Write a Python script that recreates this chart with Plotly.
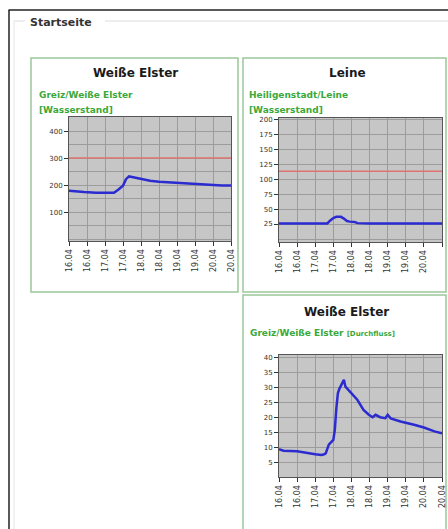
import plotly.graph_objects as go

W, H = 448, 529

# ---------------- data ----------------
TICKS = ["2010-04-16 00:00", "2010-04-16 12:00", "2010-04-17 00:00", "2010-04-17 12:00",
         "2010-04-18 00:00", "2010-04-18 12:00", "2010-04-19 00:00", "2010-04-19 12:00",
         "2010-04-20 00:00", "2010-04-20 12:00"]
TICK_LABELS = ["16.04", "16.04", "17.04", "17.04", "18.04", "18.04", "19.04", "19.04", "20.04", "20.04"]
TICK_LABELS_LEINE = ["16.04", "16.04", "17.04", "17.04", "18.04", "18.04", "19.04", "19.04", "20.04", ""]

elster_w_time = ["2010-04-16 00:00", "2010-04-16 04:00", "2010-04-16 10:00", "2010-04-16 18:00",
                 "2010-04-17 00:00", "2010-04-17 04:00", "2010-04-17 06:00", "2010-04-17 09:00",
                 "2010-04-17 12:00", "2010-04-17 14:00", "2010-04-17 16:00", "2010-04-17 18:00",
                 "2010-04-17 21:00", "2010-04-18 00:00", "2010-04-18 06:00", "2010-04-18 12:00",
                 "2010-04-18 18:00", "2010-04-19 00:00", "2010-04-19 06:00", "2010-04-19 12:00",
                 "2010-04-19 18:00", "2010-04-20 00:00", "2010-04-20 06:00", "2010-04-20 12:00"]
elster_w_value = [179, 176, 174, 172, 171, 170, 172, 184, 198, 222, 232, 230,
                  226, 223, 216, 212, 210, 209, 207, 205, 201, 199, 198, 198]
elster_w_limit = 300

leine_time = ["2010-04-16 00:00", "2010-04-17 08:00", "2010-04-17 10:00", "2010-04-17 12:00",
              "2010-04-17 14:00", "2010-04-17 17:00", "2010-04-17 19:00", "2010-04-17 21:00",
              "2010-04-17 23:00", "2010-04-18 02:00", "2010-04-18 04:00", "2010-04-18 12:00",
              "2010-04-19 12:00", "2010-04-20 12:00"]
leine_value = [26, 26, 31, 35, 37, 37, 34, 30, 29, 28.5, 26.5, 26, 26, 26]
leine_limit = 113

elster_q_time = ["2010-04-16 00:00", "2010-04-16 03:00", "2010-04-16 12:00", "2010-04-16 18:00",
                 "2010-04-17 00:00", "2010-04-17 04:00", "2010-04-17 06:00", "2010-04-17 07:00",
                 "2010-04-17 09:00", "2010-04-17 12:00", "2010-04-17 13:00", "2010-04-17 14:00",
                 "2010-04-17 15:00", "2010-04-17 16:00", "2010-04-17 17:30", "2010-04-17 19:00",
                 "2010-04-17 20:00", "2010-04-17 23:00", "2010-04-18 04:00", "2010-04-18 08:00",
                 "2010-04-18 11:30", "2010-04-18 14:00", "2010-04-18 16:00", "2010-04-18 19:00",
                 "2010-04-18 22:30", "2010-04-19 00:00", "2010-04-19 02:00", "2010-04-19 08:30",
                 "2010-04-19 13:00", "2010-04-19 17:30", "2010-04-20 00:00", "2010-04-20 07:00",
                 "2010-04-20 12:00"]
elster_q_value = [9.5, 9.0, 8.8, 8.2, 7.8, 7.6, 7.8, 8.2, 11, 12.6, 16, 23, 28, 29.5, 31.3, 32.5,
                  30.2, 28.5, 25.8, 22.5, 20.9, 20.1, 20.9, 20.1, 19.8, 20.9, 19.7, 18.7,
                  18.2, 17.6, 16.7, 15.4, 14.8]

# ---------------- helpers ----------------
def fx(x):
    return x / W

def fy(y):
    return 1 - y / H

BLUE = "#2b2bd0"
RED = "#e07272"
GREEN = "#3aa83a"
GRID = "#9c9c9c"
PLOTBG = "#c6c6c6"
TICKFONT = dict(family="DejaVu Sans", size=7, color="#333333")

fig = go.Figure()

def add_panel(n, times, values, limit):
    xa = "x" if n == 1 else f"x{n}"
    ya = "y" if n == 1 else f"y{n}"
    if limit is not None:
        fig.add_trace(go.Scatter(x=[TICKS[0], TICKS[-1]], y=[limit, limit], mode="lines",
                                 line=dict(color=RED, width=1.5), xaxis=xa, yaxis=ya,
                                 hoverinfo="skip", showlegend=False))
    fig.add_trace(go.Scatter(x=times, y=values, mode="lines",
                             line=dict(color=BLUE, width=2.5), xaxis=xa, yaxis=ya,
                             showlegend=False))

add_panel(1, elster_w_time, elster_w_value, elster_w_limit)
add_panel(2, leine_time, leine_value, leine_limit)
add_panel(3, elster_q_time, elster_q_value, None)

def xaxis_cfg(x0, x1, labels, anchor):
    return dict(domain=[fx(x0), fx(x1)], anchor=anchor, type="date",
                range=[TICKS[0], TICKS[-1]], tickmode="array", tickvals=TICKS, ticktext=labels,
                tickangle=-90, ticks="outside", ticklen=4, tickcolor="#333",
                tickfont=dict(family="DejaVu Sans", size=8, color="#333333"),
                showgrid=True, gridcolor=GRID, gridwidth=1,
                showline=True, linecolor="#555", linewidth=1, mirror=True,
                zeroline=False, automargin=False, fixedrange=True)

def yaxis_cfg(y0, y1, rng, tickvals, minor_dtick, anchor):
    return dict(domain=[fy(y1), fy(y0)], anchor=anchor, range=rng,
                tickmode="array", tickvals=tickvals, ticktext=[str(v) for v in tickvals],
                ticks="outside", ticklen=4, tickcolor="#333", tickfont=TICKFONT,
                showgrid=True, gridcolor=GRID, gridwidth=1,
                minor=dict(tickmode="linear", tick0=0, dtick=minor_dtick, showgrid=True,
                           gridcolor=GRID, gridwidth=1, ticks=""),
                showline=True, linecolor="#555", linewidth=1, mirror=True,
                zeroline=False, automargin=False, fixedrange=True)

fig.update_layout(
    width=W, height=H,
    margin=dict(l=0, r=0, t=0, b=0),
    paper_bgcolor="white", plot_bgcolor=PLOTBG,
    showlegend=False,
    xaxis=xaxis_cfg(69, 231, TICK_LABELS, "y"),
    yaxis=yaxis_cfg(117, 241, [-7, 452], [100, 200, 300, 400], 50, "x"),
    xaxis2=xaxis_cfg(279, 442, TICK_LABELS_LEINE, "y2"),
    yaxis2=yaxis_cfg(118, 242, [-5, 202], [25, 50, 75, 100, 125, 150, 175, 200], 25, "x2"),
    xaxis3=xaxis_cfg(279, 442, TICK_LABELS, "y3"),
    yaxis3=yaxis_cfg(355, 477, [0.3, 40.7], [5, 10, 15, 20, 25, 30, 35, 40], 5, "x3"),
)

shapes = []
# outer frame of the screenshot
shapes.append(dict(type="line", xref="paper", yref="paper", x0=fx(8.5), x1=fx(448), y0=fy(10), y1=fy(10),
                   line=dict(color="#222", width=1.5)))
shapes.append(dict(type="line", xref="paper", yref="paper", x0=fx(9), x1=fx(9), y0=fy(10), y1=fy(529),
                   line=dict(color="#222", width=1.5)))
# fieldset border
shapes.append(dict(type="line", xref="paper", yref="paper", x0=fx(14), x1=fx(25), y0=fy(21), y1=fy(21),
                   line=dict(color="#dcdcdc", width=1)))
shapes.append(dict(type="line", xref="paper", yref="paper", x0=fx(105), x1=fx(448), y0=fy(21), y1=fy(21),
                   line=dict(color="#dcdcdc", width=1)))
shapes.append(dict(type="line", xref="paper", yref="paper", x0=fx(14), x1=fx(14), y0=fy(21), y1=fy(529),
                   line=dict(color="#e4e4e4", width=1)))
# panel frames
for (x0, y0, x1, y1) in [(31, 58, 238, 292), (243, 58, 446, 292), (243, 295, 446, 540)]:
    shapes.append(dict(type="rect", xref="paper", yref="paper", x0=fx(x0), x1=fx(x1), y0=fy(y1), y1=fy(y0),
                       line=dict(color="#9cc79c", width=1.5), fillcolor="rgba(0,0,0,0)", layer="below"))
fig.update_layout(shapes=shapes)

ann = []
def text(x, y, s, size, color, xanchor="left", bold=True):
    ann.append(dict(x=fx(x), y=fy(y), xref="paper", yref="paper", text=(f"<b>{s}</b>" if bold else s),
                    showarrow=False, xanchor=xanchor, yanchor="middle",
                    font=dict(family="DejaVu Sans", size=size, color=color)))

text(28, 23, "Startseite", 11, "#333333")
text(135, 73, "Weiße Elster", 12, "#1a1a1a", "center")
text(37, 95, "Greiz/Weiße Elster", 9, GREEN)
text(37, 110, "[Wasserstand]", 9, GREEN)
text(347, 73, "Leine", 12, "#1a1a1a", "center")
text(247, 95, "Heiligenstadt/Leine", 9, GREEN)
text(247, 110, "[Wasserstand]", 9, GREEN)
text(346, 312, "Weiße Elster", 12, "#1a1a1a", "center")
text(248, 333, "Greiz/Weiße Elster <span style='font-size:7px'>[Durchfluss]</span>", 9, GREEN)
fig.update_layout(annotations=ann)

fig.write_html("out.html", config={"displayModeBar": False},
               post_script="document.body.style.margin='0';document.body.style.overflow='hidden';")
